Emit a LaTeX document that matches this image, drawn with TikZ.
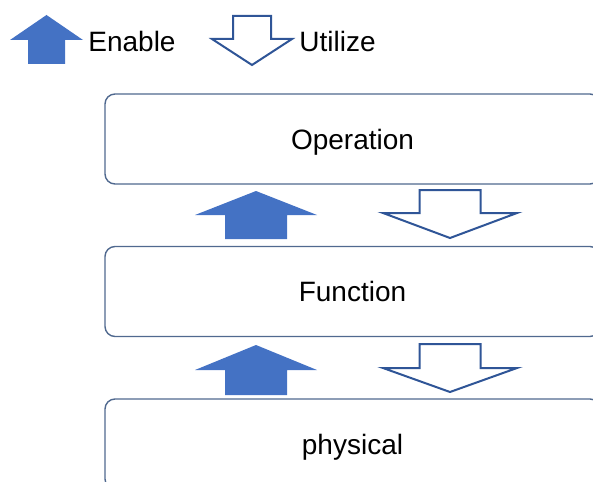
\documentclass[tikz,border=0pt]{standalone}
\usepackage{fontspec}
\setmainfont{Liberation Sans}
\usepackage{xcolor}
\usetikzlibrary{calc}
\definecolor{enablefill}{HTML}{4472C4}
\definecolor{utilizeline}{HTML}{2F5597}
\definecolor{layerline}{HTML}{50698F}

% block arrows: centre x, top y, head base y, end y, half head width, half shaft width
\newcommand{\enablearrow}[6]{%
  \fill[enablefill] (#1,#2) -- (#1+#5,#3) -- (#1+#6,#3) -- (#1+#6,#4)
    -- (#1-#6,#4) -- (#1-#6,#3) -- (#1-#5,#3) -- cycle;}
\newcommand{\utilizearrow}[6]{%
  \draw[utilizeline, line width=1pt, fill=white, line join=miter] (#1-#6,#2) -- (#1+#6,#2)
    -- (#1+#6,#3) -- (#1+#5,#3) -- (#1,#4) -- (#1-#5,#3) -- (#1-#6,#3) -- cycle;}

\begin{document}
\begin{tikzpicture}[x=0.5pt, y=-0.5pt, font=\fontsize{14}{16}\selectfont]
  \tikzset{layer/.style={draw=layerline, line width=0.7pt, rounded corners=5pt, fill=white,
      minimum width=247.5pt, minimum height=45pt, inner sep=0pt, text height=10pt, text depth=0pt}}
  \useasboundingbox (0,0) rectangle (593,481);
  \clip (0,0) rectangle (593,481);
  % legend
  \enablearrow{46.5}{15}{40}{64}{36.5}{18.5}
  \node[anchor=base west, inner sep=0pt] (enable) at (88,52) {Enable};
  \utilizearrow{252}{16}{39}{65}{40}{19}
  \node[anchor=base west, inner sep=0pt] (utilize) at (299,52) {Utilize};
  % the three layers
  \node[layer] (op) at (352.5,139) {Operation};
  \node[layer] (fn) at (352.5,291.5) {Function};
  \node[layer] (phys) at (352.5,444) {physical};
  % arrows between layers
  \enablearrow{256}{191}{215}{239}{61}{31}
  \utilizearrow{450}{190}{213}{238}{67}{30.5}
  \enablearrow{256}{345}{370}{395}{61}{31}
  \utilizearrow{450}{344}{368}{392}{67}{30.5}
\end{tikzpicture}
\end{document}
